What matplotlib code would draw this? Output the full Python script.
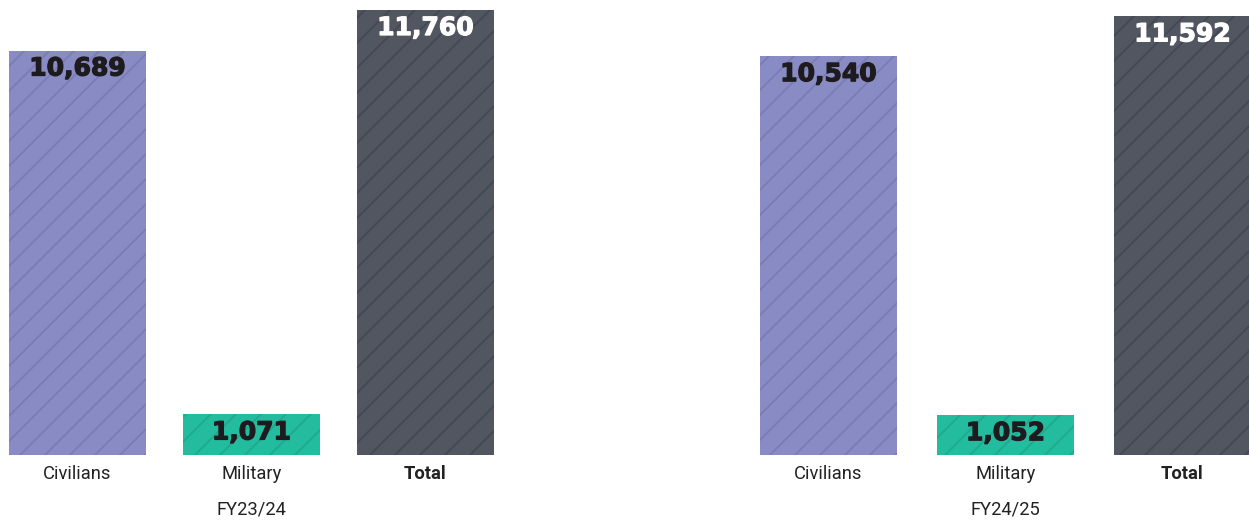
import matplotlib
matplotlib.use("Agg")
import matplotlib.pyplot as plt
import matplotlib.patheffects as pe

CATEGORIES = ["Civilians", "Military", "Total"]
YEARS = ["FY23/24", "FY24/25"]
CIVILIANS = [10689, 10540]
MILITARY = [1071, 1052]
TOTAL = [11760, 11592]

FILL = {"Civilians": "#898bc4", "Military": "#23bc9e", "Total": "#515661"}
HATCH = {"Civilians": "#7b7cb4", "Military": "#1faa8e", "Total": "#434855"}
LABEL_COLOR = {"Civilians": "#1e1b1e", "Military": "#1e1b1e", "Total": "white"}

DPI = 150
W, H = 1249, 520
BASE = 455                 # px baseline from top
GROUP_START = [77.5, 828.5]  # px centre of first bar per group
GROUP_STEP = [174.0, 177.0]  # px between bar centres per group
BAR_W = 137

plt.rcParams["hatch.linewidth"] = 0.9
plt.rcParams["font.family"] = ["Roboto", "DejaVu Sans"]

fig = plt.figure(figsize=(W / DPI, H / DPI), dpi=DPI)
ax = fig.add_axes([0, (H - BASE) / H, 1, BASE / H])
ax.set_xlim(0, W)
ax.set_ylim(0, max(TOTAL) * BASE / (BASE - 10))
ax.axis("off")

series = {"Civilians": CIVILIANS, "Military": MILITARY, "Total": TOTAL}
px = (BASE - 10) / max(TOTAL)   # px per unit
for g, year in enumerate(YEARS):
    for i, cat in enumerate(CATEGORIES):
        x = GROUP_START[g] + i * GROUP_STEP[g]
        v = series[cat][g]
        ax.bar(x, v, width=BAR_W, color=FILL[cat], edgecolor=HATCH[cat],
               hatch="//", linewidth=0)
        ax.text(x, v - 18 / px, f"{v:,}", ha="center", va="center",
                fontsize=12, fontweight="bold", family="DejaVu Sans",
                color=LABEL_COLOR[cat],
                path_effects=[pe.withStroke(linewidth=0.6,
                                            foreground=LABEL_COLOR[cat])])
        ax.text(x, -19 / px, cat, ha="center", va="center",
                fontsize=8.8, color="#222222",
                fontweight="bold" if cat == "Total" else "normal")
    ax.text(GROUP_START[g] + GROUP_STEP[g], -55 / px, year, ha="center",
            va="center", fontsize=8.8, color="#222222")

for t in ax.texts:
    t.set_clip_on(False)

fig.savefig("out.png", dpi=DPI)
